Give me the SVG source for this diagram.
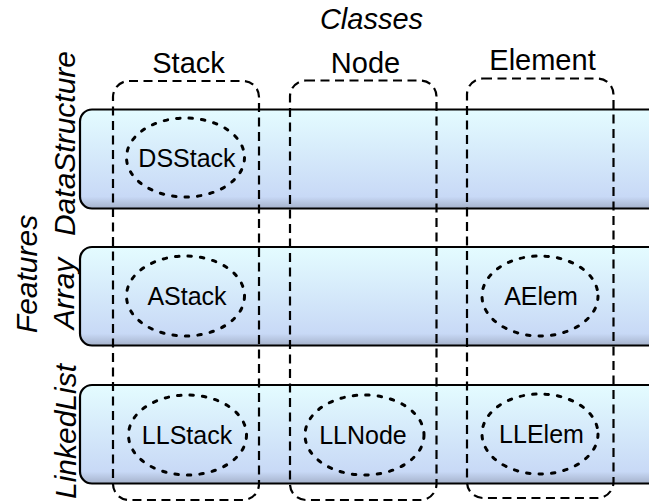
<svg xmlns="http://www.w3.org/2000/svg" width="649" height="504" viewBox="0 0 649 504">
  <defs>
    <linearGradient id="bandFill" x1="0" y1="0" x2="0" y2="1">
      <stop offset="0" stop-color="#e4fcff"/>
      <stop offset="0.88" stop-color="#c8d9f6"/>
      <stop offset="1" stop-color="#a5b2cb"/>
    </linearGradient>
    <style>
      .band { fill: url(#bandFill); stroke: #000; stroke-width: 2.2; }
      .cls { fill: none; stroke: #000; stroke-width: 2.2; stroke-dasharray: 9 5.5; }
      .inst { fill: none; stroke: #000; stroke-width: 3; stroke-dasharray: 3.5 9; stroke-linecap: round; }
      .hdr { font-family: "Liberation Sans", Arial, Helvetica, sans-serif; font-size: 29px; fill: #000; text-anchor: middle; }
      .side { font-size: 30px; }
      .ital { font-style: italic; }
      .lbl { font-family: "Liberation Sans", Arial, Helvetica, sans-serif; font-size: 25px; fill: #000; text-anchor: middle; }
    </style>
  </defs>

  <!-- Feature bands -->
  <g id="feature-DataStructure">
    <rect class="band" x="80" y="109.5" width="600" height="99" rx="12"/>
    <text class="hdr side ital" transform="translate(75,143.5) rotate(-90)">DataStructure</text>
  </g>
  <g id="feature-Array">
    <rect class="band" x="80" y="247" width="600" height="98.5" rx="12"/>
    <text class="hdr side ital" transform="translate(74,293.5) rotate(-90)">Array</text>
  </g>
  <g id="feature-LinkedList">
    <rect class="band" x="80" y="385" width="600" height="98.5" rx="12"/>
    <text class="hdr side ital" transform="translate(76,431.5) rotate(-90)">LinkedList</text>
  </g>

  <g id="axis-Features">
    <text class="hdr side ital" transform="translate(37,274) rotate(-90)">Features</text>
  </g>
  <g id="axis-Classes">
    <text class="hdr ital" x="371.5" y="28.5">Classes</text>
  </g>

  <!-- Class columns -->
  <g id="class-Stack">
    <rect class="cls" x="113" y="81" width="146" height="419" rx="16"/>
    <text class="hdr" x="188.5" y="73">Stack</text>
  </g>
  <g id="class-Node">
    <rect class="cls" x="290" y="80.5" width="146.5" height="419.5" rx="16"/>
    <text class="hdr" x="365.5" y="73">Node</text>
  </g>
  <g id="class-Element">
    <rect class="cls" x="467" y="78.5" width="146.5" height="419.5" rx="16"/>
    <text class="hdr" x="542.5" y="70">Element</text>
  </g>

  <!-- Instances -->
  <g id="DSStack">
    <ellipse class="inst" cx="185.5" cy="157.5" rx="59" ry="39.5"/>
    <text class="lbl" x="187" y="166.5">DSStack</text>
  </g>
  <g id="AStack">
    <ellipse class="inst" cx="185.5" cy="296" rx="59" ry="40"/>
    <text class="lbl" x="187" y="304.5">AStack</text>
  </g>
  <g id="LLStack">
    <ellipse class="inst" cx="187.5" cy="435" rx="59" ry="40"/>
    <text class="lbl" x="187" y="444">LLStack</text>
  </g>
  <g id="LLNode">
    <ellipse class="inst" cx="364.5" cy="435" rx="59.5" ry="40"/>
    <text class="lbl" x="363" y="443.5">LLNode</text>
  </g>
  <g id="AElem">
    <ellipse class="inst" cx="540" cy="296" rx="58" ry="40"/>
    <text class="lbl" x="541" y="304.5">AElem</text>
  </g>
  <g id="LLElem">
    <ellipse class="inst" cx="540" cy="434" rx="58" ry="40"/>
    <text class="lbl" x="541.5" y="443">LLElem</text>
  </g>

  <g id="connectors"></g>
</svg>
